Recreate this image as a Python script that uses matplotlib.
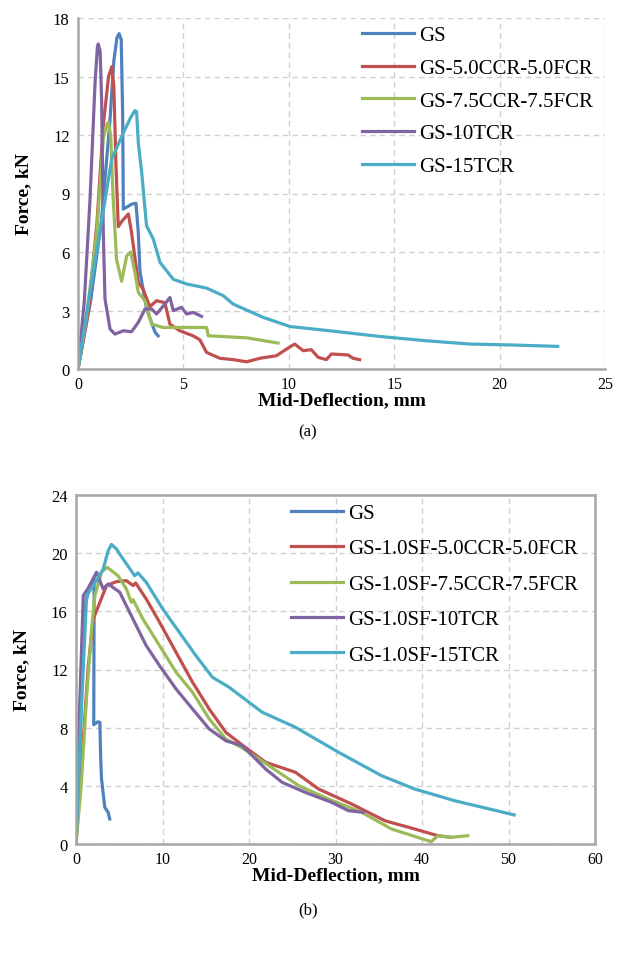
import matplotlib
matplotlib.use("Agg")
import matplotlib.pyplot as plt

plt.rcParams['font.family'] = ['Liberation Serif', 'DejaVu Serif']

# -------------------------------
# DATA  (a) plain GS mixes
# -------------------------------
labels_a = ["GS", "GS-5.0CCR-5.0FCR", "GS-7.5CCR-7.5FCR", "GS-10TCR", "GS-15TCR"]

gs_a_x = [0, 0.6, 1.1, 1.5, 1.7, 1.85, 1.95, 2.05, 2.12, 2.15, 2.54, 2.75, 2.86, 2.94, 3.25, 3.65, 3.8]
gs_a_y = [0, 3.5, 7.5, 12.5, 15.8, 17.0, 17.2, 16.9, 13.0, 8.2, 8.45, 8.5, 7.0, 5.0, 3.1, 1.9, 1.7]

ccr5_a_x = [0, 0.5, 0.9, 1.2, 1.45, 1.6, 1.7, 1.8, 1.91, 2.1, 2.39, 2.54, 2.86, 3.08, 3.41, 3.73,
            4.12, 4.36, 4.83, 5.46, 5.78, 6.1, 6.73, 7.36, 8.0, 8.63, 9.41, 9.89, 10.28, 10.68,
            11.07, 11.39, 11.78, 12.02, 12.81, 13.05, 13.36]
ccr5_a_y = [0, 3.0, 7.5, 12.5, 15.0, 15.5, 14.5, 10.5, 7.3, 7.6, 7.95, 7.0, 4.45, 4.1, 3.2, 3.5,
            3.4, 2.3, 1.96, 1.7, 1.5, 0.85, 0.55, 0.48, 0.37, 0.55, 0.68, 1.02, 1.28, 0.94,
            0.99, 0.6, 0.48, 0.77, 0.72, 0.55, 0.48]

ccr75_a_x = [0, 0.41, 0.89, 1.2, 1.35, 1.44, 1.55, 1.67, 1.83, 2.07, 2.31, 2.5, 2.7, 2.86, 3.18,
             3.49, 4.04, 6.1, 6.18, 6.26, 8.0, 9.49]
ccr75_a_y = [0, 2.7, 7.0, 11.8, 12.5, 12.65, 12.0, 8.7, 5.6, 4.5, 5.8, 6.0, 4.95, 3.93, 3.5,
             2.3, 2.13, 2.13, 1.7, 1.7, 1.6, 1.33]

tcr10_a_x = [0, 0.3, 0.57, 0.81, 0.92, 0.96, 1.05, 1.12, 1.2, 1.28, 1.52, 1.75, 2.15, 2.54, 2.86,
             3.18, 3.49, 3.73, 4.12, 4.36, 4.52, 4.91, 5.15, 5.47, 5.86]
tcr10_a_y = [0, 3.5, 8.7, 14.7, 16.5, 16.67, 16.3, 13.8, 7.0, 3.6, 2.05, 1.79, 1.96, 1.91, 2.39,
             3.08, 3.08, 2.82, 3.33, 3.67, 2.99, 3.16, 2.82, 2.9, 2.7]

tcr15_a_x = [0, 0.5, 1.0, 1.6, 2.15, 2.5, 2.7, 2.78, 2.86, 3.02, 3.25, 3.57, 3.89, 4.52, 5.15,
             6.1, 6.89, 7.36, 8.78, 10.05, 11.94, 14.31, 16.5, 18.58, 20.63, 22.76]
tcr15_a_y = [0, 3.5, 6.8, 10.77, 12.1, 12.9, 13.25, 13.2, 11.6, 10.1, 7.35, 6.67, 5.47, 4.6, 4.36,
             4.15, 3.76, 3.33, 2.65, 2.18, 1.96, 1.67, 1.45, 1.28, 1.23, 1.16]

# -------------------------------
# DATA  (b) mixes with 1.0% SF
# -------------------------------
labels_b = ["GS", "GS-1.0SF-5.0CCR-5.0FCR", "GS-1.0SF-7.5CCR-7.5FCR", "GS-1.0SF-10TCR", "GS-1.0SF-15TCR"]

gs_b_x = [0, 0.5, 1.03, 1.61, 2.1, 2.05, 2.5, 2.76, 2.85, 2.95, 3.33, 3.72, 3.9]
gs_b_y = [0, 8, 16.4, 17.77, 18.3, 8.2, 8.4, 8.37, 6.0, 4.47, 2.52, 2.17, 1.72]

ccr5_b_x = [0, 0.7, 1.42, 1.99, 2.76, 3.53, 4.67, 5.82, 6.59, 6.9, 8.12, 9.66, 11.57, 13.48, 15.4,
            17.32, 19.23, 21.92, 25.37, 28.05, 31.87, 35.71, 39.16, 41.84, 43.37]
ccr5_b_y = [0, 6, 12.26, 15.47, 16.62, 17.77, 18.04, 18.11, 17.77, 17.95, 16.85, 15.25, 13.18, 11.12,
            9.28, 7.68, 6.8, 5.62, 4.93, 3.78, 2.75, 1.6, 1.03, 0.57, 0.46]

ccr75_b_x = [0, 0.6, 1.23, 1.8, 2.18, 2.95, 3.6, 4.86, 5.82, 6.4, 6.6, 7.74, 9.66, 11.57, 13.48,
             15.4, 17.32, 19.23, 22.3, 25.75, 29.2, 33.03, 36.48, 41.07, 41.84, 43.37, 45.29]
ccr75_b_y = [0, 4, 10.2, 14.79, 17.08, 18.69, 19.03, 18.45, 17.54, 16.62, 16.8, 15.47, 13.64, 11.81,
             10.43, 8.6, 7.22, 6.6, 5.39, 4.01, 3.09, 2.18, 1.03, 0.16, 0.57, 0.46, 0.57]

tcr10_b_x = [0, 0.4, 0.84, 1.42, 2.38, 3.14, 3.72, 5.06, 5.82, 6.97, 8.12, 9.66, 11.57, 13.48,
             15.4, 17.32, 19.23, 21.92, 23.83, 26.51, 29.58, 31.49, 33.22]
tcr10_b_y = [0, 9, 17.08, 17.6, 18.69, 17.54, 17.88, 17.31, 16.39, 15.01, 13.64, 12.26, 10.66, 9.28,
             7.91, 7.1, 6.76, 5.16, 4.24, 3.55, 2.86, 2.29, 2.18]

tcr15_b_x = [0, 0.6, 1.23, 1.99, 3.14, 3.72, 4.1, 4.67, 5.44, 6.78, 7.16, 8.12, 10.03, 13.87, 15.78,
             17.7, 21.53, 25.37, 30.34, 35.32, 39.16, 43.76, 50.65]
tcr15_b_y = [0, 9, 17.08, 17.77, 18.91, 20.17, 20.6, 20.29, 19.6, 18.45, 18.64, 18.0, 16.16, 12.95,
             11.46, 10.78, 9.06, 8.03, 6.31, 4.7, 3.78, 2.98, 2.0]

colors = ["#4F81BD", "#C0504D", "#9BBB59", "#8064A2", "#4BACC6"]

series_a = [(gs_a_x, gs_a_y), (ccr5_a_x, ccr5_a_y), (ccr75_a_x, ccr75_a_y),
            (tcr10_a_x, tcr10_a_y), (tcr15_a_x, tcr15_a_y)]
series_b = [(gs_b_x, gs_b_y), (ccr5_b_x, ccr5_b_y), (ccr75_b_x, ccr75_b_y),
            (tcr10_b_x, tcr10_b_y), (tcr15_b_x, tcr15_b_y)]

# -------------------------------
# FIGURE
# -------------------------------
fig = plt.figure(figsize=(6.17, 9.54), dpi=100)
ax1 = fig.add_axes([78 / 617, 1 - 370 / 954, 527 / 617, 351 / 954])
ax2 = fig.add_axes([76 / 617, 1 - 845 / 954, 519 / 617, 349 / 954])

spine_col = "#A6A6A6"
grid_col = "#D0D0D0"


def style(ax, series, labels, xmax, xstep, ymax, ystep, box, leg_xy, leg_space):
    for (x, y), c, lab in zip(series, colors, labels):
        ax.plot(x, y, color=c, lw=2.3, label=lab, solid_joinstyle="round")
    ax.set_xlim(0, xmax)
    ax.set_ylim(0, ymax)
    ax.set_xticks(range(0, xmax + 1, xstep))
    ax.set_yticks(range(0, ymax + 1, ystep))
    ax.grid(True, color=grid_col, linestyle=(0, (4, 3)), lw=1.0)
    ax.set_axisbelow(True)
    for side in ["left", "bottom", "top", "right"]:
        ax.spines[side].set_color(spine_col)
        ax.spines[side].set_linewidth(1.8)
    if not box:
        ax.spines["top"].set_visible(False)
        ax.spines["right"].set_visible(False)
    ax.tick_params(axis="x", length=0, labelsize=11.5, pad=5)
    ax.tick_params(axis="y", length=0, labelsize=12, pad=6)
    ax.set_xlabel("Mid-Deflection, mm", fontsize=14, fontweight="bold", labelpad=-0.5)
    ax.set_ylabel("Force, kN", fontsize=14, fontweight="bold", labelpad=15)
    ax.legend(loc="upper left", bbox_to_anchor=leg_xy, frameon=False, fontsize=15,
              handlelength=2.5, handletextpad=0.25, labelspacing=leg_space,
              borderpad=0, borderaxespad=0)


style(ax1, series_a, labels_a, 25, 5, 18, 3, False, (0.538, 0.978), 0.63)
style(ax2, series_b, labels_b, 60, 10, 24, 4, True, (0.4137, 0.976), 0.76)

fig.text(308 / 617, 1 - 432 / 954, "(a)", ha="center", va="center", fontsize=12)
fig.text(308 / 617, 1 - 910 / 954, "(b)", ha="center", va="center", fontsize=12)

fig.savefig("out.png", dpi=100)
